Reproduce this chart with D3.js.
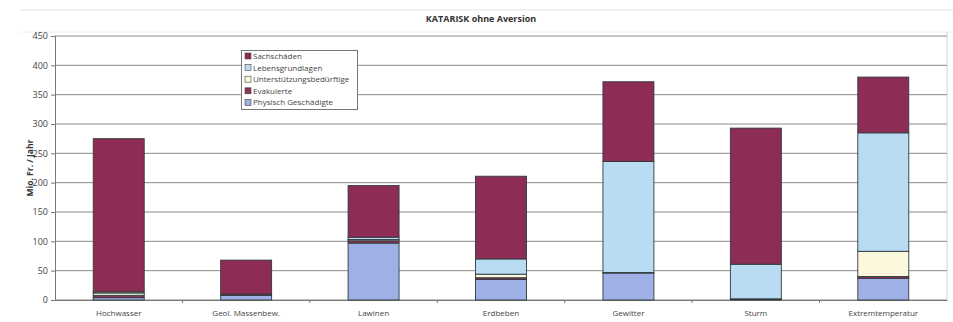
<!DOCTYPE html>
<html><head><meta charset="utf-8">
<script src="https://cdn.jsdelivr.net/npm/d3@7"></script>
<style>body{margin:0;background:#fff}svg{display:block}text{font-family:"Open Sans",sans-serif}</style>
</head><body>
<svg id="c" width="953" height="322"></svg>
<script>
const categories = ["Hochwasser","Geol. Massenbew.","Lawinen","Erdbeben","Gewitter","Sturm","Extremtemperatur"];
const seriesNames = ["Physisch Geschädigte","Evakuierte","Unterstützungsbedürftige","Lebensgrundlagen","Sachschäden"];
const physisch =        [4, 8, 97, 35, 46, 1, 37];
const evakuierte =      [4, 2, 4, 3, 1, 1, 3];
const unterstuetzung =  [4, 0, 2, 6, 0, 0, 43];
const lebensgrundlagen= [2, 0, 4, 26, 189, 59, 202];
const sachschaeden =    [261, 58, 88, 141, 136, 232, 95];
const yTicks = [0,50,100,150,200,250,300,350,400,450];
const legendOrder = ["Sachschäden","Lebensgrundlagen","Unterstützungsbedürftige","Evakuierte","Physisch Geschädigte"];

const colors = {"Physisch Geschädigte":"#9fb0e6","Evakuierte":"#8c3358","Unterstützungsbedürftige":"#fbf8dc","Lebensgrundlagen":"#b9dcf3","Sachschäden":"#8d2c55"};
const seriesVals = [physisch, evakuierte, unterstuetzung, lebensgrundlagen, sachschaeden];
const rows = categories.map((c,i)=>{const r={cat:c}; seriesNames.forEach((s,j)=>r[s]=seriesVals[j][i]); return r;});
const stacked = d3.stack().keys(seriesNames)(rows);

const svg = d3.select("#c");
const L=55, R=947, T=36, B=300;
const x = d3.scaleBand().domain(categories).range([L,R]).paddingInner(0.6).paddingOuter(0.3);
const y = d3.scaleLinear().domain([0,450]).range([B,T]);

// frame lines
svg.append("line").attr("x1",20).attr("x2",953).attr("y1",10).attr("y2",10).attr("stroke","#e4e4e4");
svg.append("line").attr("x1",20).attr("x2",953).attr("y1",32).attr("y2",32).attr("stroke","#eeeeee");
svg.append("line").attr("x1",R).attr("x2",R).attr("y1",T-4).attr("y2",B).attr("stroke","#d8d8d8");

svg.append("text").attr("x",481).attr("y",22).attr("text-anchor","middle")
  .attr("font-size",9).attr("font-weight","bold").attr("fill","#333").text("KATARISK ohne Aversion");

// grid
svg.append("g").selectAll("line").data(yTicks).join("line")
  .attr("x1",L).attr("x2",R).attr("y1",d=>y(d)).attr("y2",d=>y(d))
  .attr("stroke","#8a8a8a").attr("stroke-width",1);

// y axis
const ya = svg.append("g").attr("transform",`translate(${L},0)`)
  .call(d3.axisLeft(y).tickValues(yTicks).tickSize(4).tickPadding(3));
ya.select(".domain").attr("stroke","#777");
ya.selectAll(".tick line").attr("stroke","#777");
ya.selectAll("text").attr("font-size",9).attr("fill","#444").style("font-family","'Open Sans',sans-serif");

// x axis
const xa = svg.append("g").attr("transform",`translate(0,${B})`)
  .call(d3.axisBottom(x).tickSize(0).tickPadding(10));
xa.select(".domain").attr("stroke","#777");
xa.selectAll("text").attr("font-size",8).attr("fill","#444").style("font-family","'Open Sans',sans-serif");
const step = x.step();
svg.append("g").selectAll("line").data(d3.range(1,categories.length)).join("line")
  .attr("x1",d=>L+d*step).attr("x2",d=>L+d*step).attr("y1",B).attr("y2",B+3).attr("stroke","#777");

svg.append("text").attr("transform","translate(33,168) rotate(-90)").attr("text-anchor","middle")
  .attr("font-size",8.5).attr("font-weight","bold").attr("fill","#333").text("Mio. Fr. / Jahr");

// bars
svg.append("g").selectAll("g").data(stacked).join("g").attr("fill",d=>colors[d.key])
  .selectAll("rect").data(d=>d).join("rect")
  .attr("x",d=>x(d.data.cat)).attr("width",x.bandwidth())
  .attr("y",d=>y(d[1])).attr("height",d=>Math.max(0,y(d[0])-y(d[1])))
  .attr("stroke","#2f3b3d").attr("stroke-width",0.9);

// legend
const lg = svg.append("g");
lg.append("rect").attr("x",241.5).attr("y",50.5).attr("width",116).attr("height",59)
  .attr("fill","#fff").attr("stroke","#777");
legendOrder.forEach((k,i)=>{
  const yy = 56 + i*11.6;
  lg.append("rect").attr("x",245).attr("y",yy-3).attr("width",6).attr("height",6)
    .attr("fill",colors[k]).attr("stroke","#444").attr("stroke-width",0.6);
  lg.append("text").attr("x",253).attr("y",yy+3).attr("font-size",8).attr("fill","#444").text(k);
});
</script>
</body></html>
